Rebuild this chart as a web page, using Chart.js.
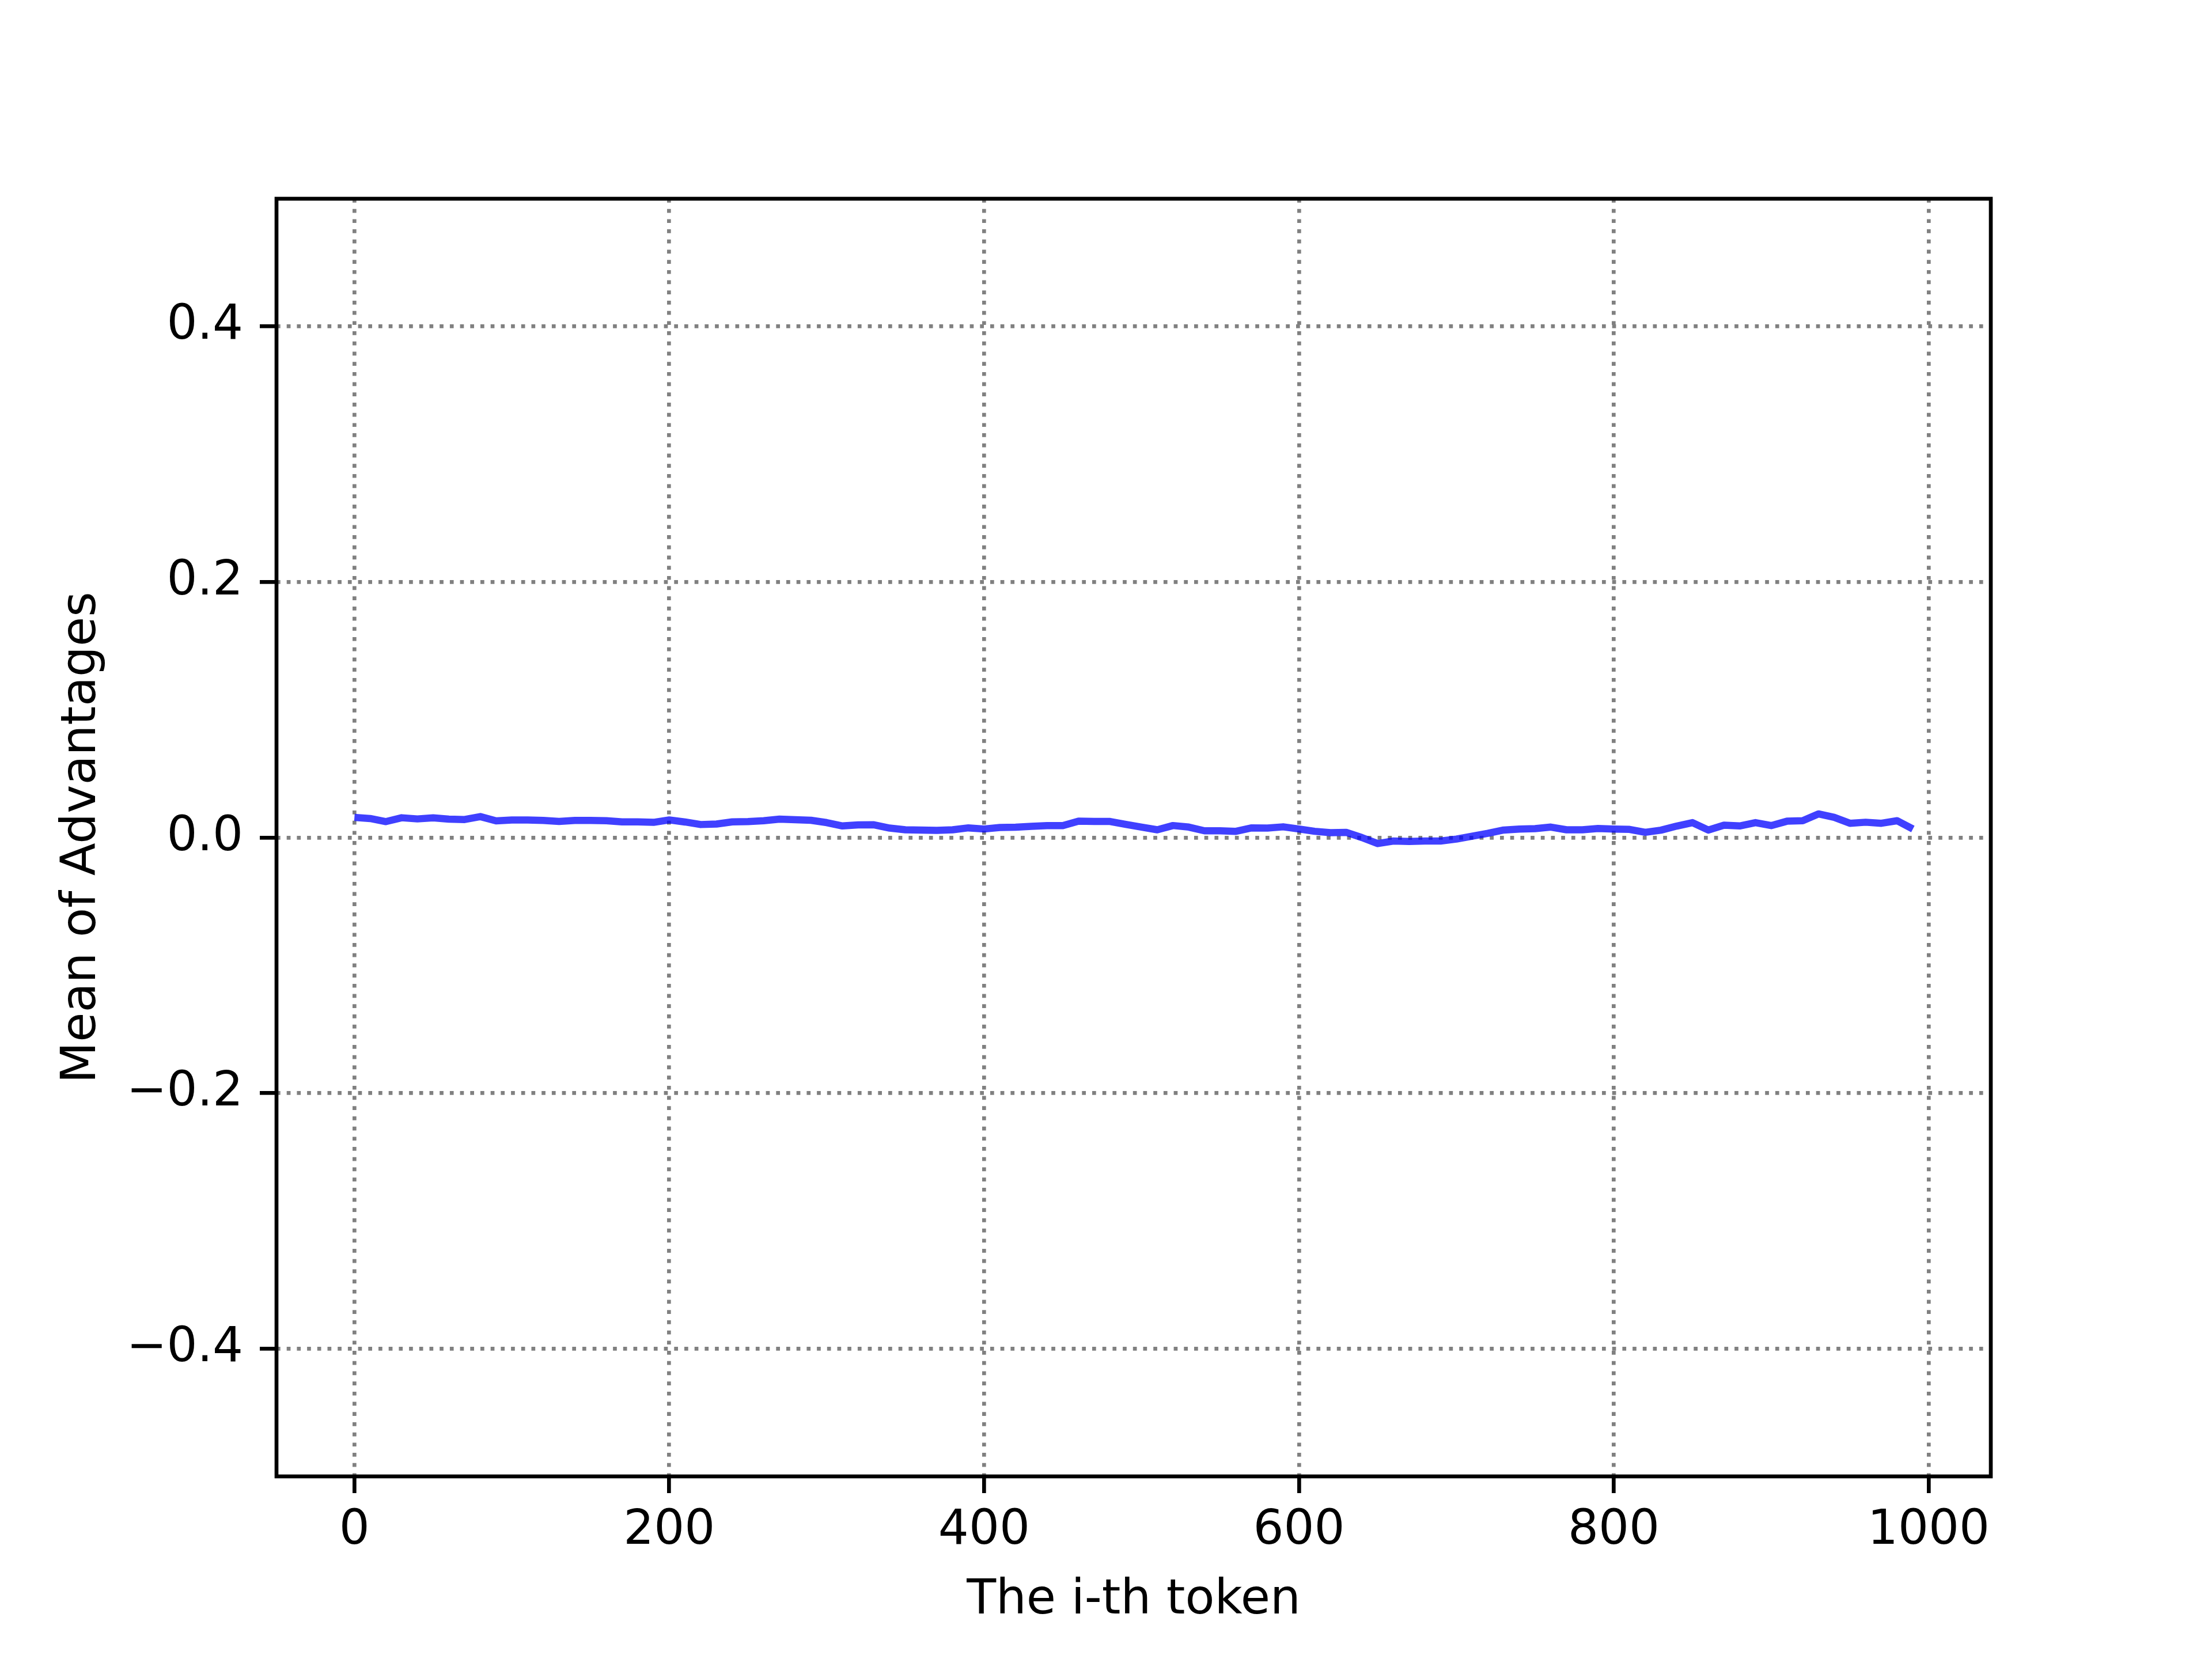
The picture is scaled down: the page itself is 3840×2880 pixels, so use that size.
<!DOCTYPE html>
<html>
<head>
<meta charset="utf-8">
<script src="https://cdn.jsdelivr.net/npm/chart.js@4"></script>
<style>
  html, body { margin: 0; padding: 0; background: #fff; }
  #wrap { width: 3840px; height: 2880px; }
</style>
</head>
<body>
<div id="wrap"><canvas id="advChart" width="3840" height="2880"></canvas></div>
<script>
// token position (x) and mean advantage (y)
const tokens = [
  0, 10, 20, 30, 40, 50, 60, 70, 80, 90,
  100, 110, 120, 130, 140, 150, 160, 170, 180, 190,
  200, 210, 220, 230, 240, 250, 260, 270, 280, 290,
  300, 310, 320, 330, 340, 350, 360, 370, 380, 390,
  400, 410, 420, 430, 440, 450, 460, 470, 480, 490,
  500, 510, 520, 530, 540, 550, 560, 570, 580, 590,
  600, 610, 620, 630, 640, 650, 660, 670, 680, 690,
  700, 710, 720, 730, 740, 750, 760, 770, 780, 790,
  800, 810, 820, 830, 840, 850, 860, 870, 880, 890,
  900, 910, 920, 930, 940, 950, 960, 970, 980, 990
];
const meanAdv = [
  0.0158, 0.0149, 0.0125, 0.0155, 0.0146, 0.0154, 0.0144, 0.0141, 0.0164, 0.0131,
  0.0137, 0.0138, 0.0134, 0.0126, 0.0134, 0.0134, 0.0132, 0.0123, 0.0123, 0.0119,
  0.0138, 0.0122, 0.0102, 0.0106, 0.0123, 0.0125, 0.0132, 0.0144, 0.0140, 0.0135,
  0.0117, 0.0091, 0.0099, 0.0100, 0.0074, 0.0061, 0.0059, 0.0056, 0.0061, 0.0076,
  0.0067, 0.0079, 0.0081, 0.0088, 0.0094, 0.0094, 0.0129, 0.0126, 0.0126, 0.0103,
  0.0082, 0.0061, 0.0094, 0.0082, 0.0053, 0.0053, 0.0049, 0.0076, 0.0074, 0.0084,
  0.0067, 0.0049, 0.0038, 0.0041, 0.0000, -0.0047, -0.0027, -0.0030, -0.0027, -0.0027,
  -0.0012, 0.0011, 0.0033, 0.0059, 0.0067, 0.0070, 0.0082, 0.0061, 0.0061, 0.0071,
  0.0067, 0.0064, 0.0041, 0.0058, 0.0090, 0.0117, 0.0059, 0.0097, 0.0091, 0.0117,
  0.0094, 0.0128, 0.0132, 0.0185, 0.0158, 0.0112, 0.0120, 0.0112, 0.0132, 0.0067
];

const xTicks = [0, 200, 400, 600, 800, 1000];
const yTicks = [-0.4, -0.2, 0.0, 0.2, 0.4];
const yTickLabels = ["\u22120.4", "\u22120.2", "0.0", "0.2", "0.4"];

const FONT = "'DejaVu Sans', sans-serif";
const FS = 83.33;
const LW = 6.67; // 0.8pt at 600 dpi

// draws the four black spines around the plot area
const frame = {
  id: "frame",
  afterDraw(chart) {
    const { ctx, chartArea: a } = chart;
    ctx.save();
    ctx.strokeStyle = "#000";
    ctx.lineWidth = LW;
    ctx.lineJoin = "miter";
    ctx.strokeRect(a.left, a.top, a.right - a.left, a.bottom - a.top);
    ctx.restore();
  }
};

const ctx = document.getElementById("advChart").getContext("2d");
new Chart(ctx, {
  type: "line",
  data: {
    datasets: [{
      data: tokens.map((t, i) => ({ x: t, y: meanAdv[i] })),
      borderColor: "rgba(0, 0, 255, 0.75)",
      borderWidth: 12.5,
      pointRadius: 0,
      tension: 0,
      fill: false,
      borderJoinStyle: "round",
      borderCapStyle: "butt"
    }]
  },
  plugins: [frame],
  options: {
    responsive: false,
    animation: false,
    devicePixelRatio: 1,
    layout: { padding: { top: 345, right: 384, left: 0, bottom: 0 } },
    plugins: { legend: { display: false }, tooltip: { enabled: false } },
    scales: {
      x: {
        type: "linear",
        min: -49.5,
        max: 1039.5,
        afterBuildTicks: s => { s.ticks = xTicks.map(v => ({ value: v })); },
        afterFit: s => { s.height = 317; },
        ticks: {
          color: "#000",
          font: { family: FONT, size: FS },
          padding: 16,
          maxRotation: 0,
          autoSkip: false,
          callback: v => String(v)
        },
        grid: {
          color: "#808080",
          lineWidth: LW,
          tickColor: "#000",
          tickWidth: LW,
          tickLength: 29
        },
        border: { display: false, dash: [6.7, 11] },
        title: {
          display: true,
          text: "The i-th token",
          color: "#000",
          font: { family: FONT, size: FS },
          padding: { top: 0, bottom: 51 }
        }
      },
      y: {
        type: "linear",
        min: -0.5,
        max: 0.5,
        afterBuildTicks: s => { s.ticks = yTicks.map(v => ({ value: v })); },
        afterFit: s => { s.width = 480; },
        ticks: {
          color: "#000",
          font: { family: FONT, size: FS },
          padding: 29,
          autoSkip: false,
          callback: v => yTickLabels[yTicks.findIndex(t => Math.abs(t - v) < 1e-9)]
        },
        grid: {
          color: "#808080",
          lineWidth: LW,
          tickColor: "#000",
          tickWidth: LW,
          tickLength: 29
        },
        border: { display: false, dash: [6.7, 11] },
        title: {
          display: true,
          text: "Mean of Advantages",
          color: "#000",
          font: { family: FONT, size: FS },
          padding: { top: 93, bottom: 0 }
        }
      }
    }
  }
});
</script>
</body>
</html>
